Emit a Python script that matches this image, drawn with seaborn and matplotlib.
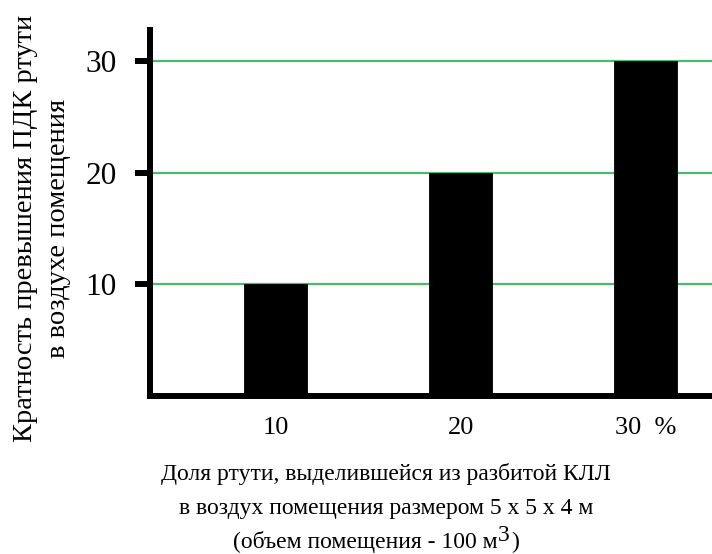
import matplotlib
matplotlib.use("Agg")
import matplotlib.pyplot as plt
import seaborn as sns
import pandas as pd

categories = ["10", "20", "30  %"]
values = [10, 20, 30]
yticks = [10, 20, 30]

sns.set_theme(style="white")
plt.rcParams['font.family'] = ['Liberation Serif', 'DejaVu Serif']

df = pd.DataFrame({"share": categories, "ratio": values})

fig = plt.figure(figsize=(7.12, 5.54), dpi=100)
ax = fig.add_axes([150/712, 1 - 396/554, 1 - 150/712, (396 - 30)/554])

sns.barplot(data=df, x="share", y="ratio", color="black", saturation=1,
            width=0.34, ax=ax, zorder=3)
for p in ax.patches:
    p.set_edgecolor("black")
    p.set_linewidth(0.6)

ax.set_xlim(-0.68, 2.36)
ax.set_ylim(0, 32.8)
ax.set_yticks(yticks)
ax.set_yticklabels([str(v) for v in yticks], fontsize=22.5)
ax.tick_params(axis="y", length=11, width=4.3, color="black", direction="out",
               left=True, pad=13)
ax.tick_params(axis="x", length=0, labelsize=19, pad=15)
for lbl in ax.get_xticklabels() + ax.get_yticklabels():
    lbl.set_color("black")

ax.yaxis.grid(True, color="#4cbb6c", linewidth=1.6, zorder=1)
ax.xaxis.grid(False)
ax.set_axisbelow(True)

for s in ["top", "right"]:
    ax.spines[s].set_visible(False)
for s in ["left", "bottom"]:
    ax.spines[s].set_linewidth(4.3)
    ax.spines[s].set_color("black")
    ax.spines[s].set_capstyle("projecting")

ax.set_ylabel("Кратность превышения ПДК ртути\nв воздухе помещения",
              fontsize=20.5, color="black", linespacing=1.38, multialignment="center")
ax.yaxis.set_label_coords(-(150 - 42)/562, (396 - 228)/366)
ax.yaxis.label.set_verticalalignment("center")

ax.set_xlabel("Доля ртути, выделившейся из разбитой КЛЛ\n"
              "в воздух помещения размером 5 х 5 х 4 м",
              fontsize=17, color="black", linespacing=1.85, multialignment="center")
ax.xaxis.set_label_coords((386 - 150)/562, -(491 - 396)/366)
ax.xaxis.label.set_verticalalignment("center")

# third line with a full-size raised superscript
t1 = fig.text(233/712, 1 - 548/554, "(объем помещения - 100 м", fontsize=17,
              color="black", ha="left", va="baseline")
t2 = ax.annotate("3", xy=(1, 0), xycoords=t1, xytext=(0.5, 5),
                 textcoords="offset points", fontsize=17, color="black",
                 ha="left", va="bottom")
t3 = ax.annotate(")", xy=(1, 0), xycoords=t2, xytext=(0.5, -5),
                 textcoords="offset points", fontsize=17, color="black",
                 ha="left", va="bottom")

fig.savefig("out.png", dpi=100)
